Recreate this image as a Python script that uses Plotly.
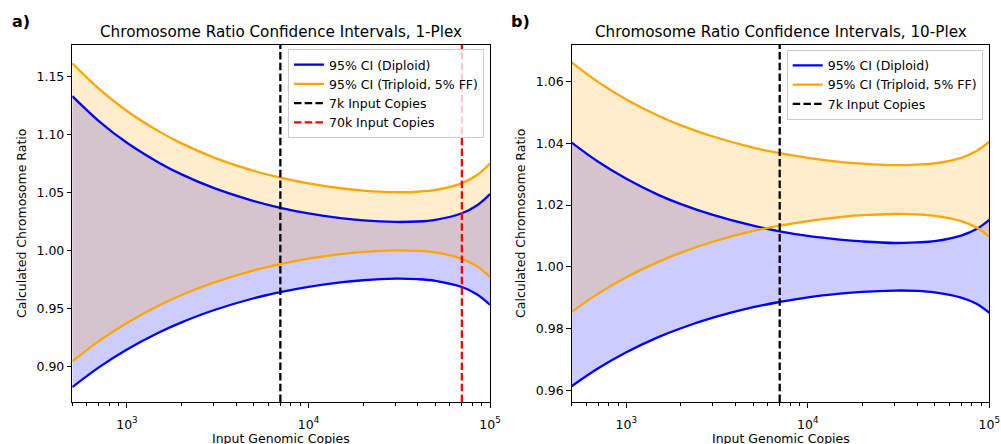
import plotly.graph_objects as go

# ---------------- data ----------------
COPIES = [500, 700, 1000, 1500, 2000, 3000, 5000, 7000, 10000, 15000,
          20000, 30000, 40000, 50000, 70000, 85000, 100000]

# Panel a) 1-Plex
DIP1_UP = [1.1329, 1.1115, 1.0928, 1.0757, 1.0656, 1.0540, 1.0427, 1.0369, 1.0321, 1.0280,
           1.0260, 1.0247, 1.0251, 1.0266, 1.0322, 1.0391, 1.0487]
DIP1_LO = [0.8827, 0.8997, 0.9151, 0.9297, 0.9384, 0.9488, 0.9591, 0.9644, 0.9689, 0.9728,
           0.9746, 0.9759, 0.9755, 0.9741, 0.9688, 0.9624, 0.9535]
TRI1_UP = [1.1612, 1.1393, 1.1201, 1.1026, 1.0923, 1.0803, 1.0687, 1.0628, 1.0579, 1.0537,
           1.0517, 1.0503, 1.0507, 1.0522, 1.0581, 1.0651, 1.0750]
TRI1_LO = [0.9048, 0.9222, 0.9379, 0.9529, 0.9619, 0.9725, 0.9831, 0.9885, 0.9931, 0.9971,
           0.9990, 1.0003, 0.9999, 0.9985, 0.9930, 0.9865, 0.9774]

# Panel b) 10-Plex
DIP10_UP = [1.0402, 1.0340, 1.0285, 1.0233, 1.0203, 1.0168, 1.0133, 1.0115, 1.0100, 1.0088,
            1.0082, 1.0077, 1.0079, 1.0083, 1.0101, 1.0122, 1.0152]
DIP10_LO = [0.9613, 0.9671, 0.9723, 0.9772, 0.9801, 0.9835, 0.9869, 0.9886, 0.9901, 0.9913,
            0.9919, 0.9923, 0.9922, 0.9917, 0.9900, 0.9880, 0.9851]
TRI10_UP = [1.0662, 1.0598, 1.0542, 1.0489, 1.0458, 1.0422, 1.0386, 1.0368, 1.0353, 1.0340,
            1.0334, 1.0329, 1.0331, 1.0335, 1.0353, 1.0375, 1.0405]
TRI10_LO = [0.9854, 0.9913, 0.9966, 1.0016, 1.0046, 1.0081, 1.0116, 1.0133, 1.0148, 1.0161,
            1.0167, 1.0171, 1.0170, 1.0165, 1.0148, 1.0127, 1.0097]

VLINE_A = [7000, 70000]
VLINE_A_NAMES = ["7k Input Copies", "70k Input Copies"]
VLINE_B = [7000]
VLINE_B_NAMES = ["7k Input Copies"]

Y_RANGE_A = [0.8699, 1.1773]
Y_RANGE_B = [0.9562, 1.0720]
Y_TICKS_A = [0.90, 0.95, 1.00, 1.05, 1.10, 1.15]
Y_TICKS_B = [0.96, 0.98, 1.00, 1.02, 1.04, 1.06]
X_TICKS = [1000, 10000, 100000]
X_TICK_TEXT = ["10<sup>3</sup>", "10<sup>4</sup>", "10<sup>5</sup>"]
X_MINOR = [d * 10 ** e for e in (2, 3, 4) for d in range(2, 10) if 500 <= d * 10 ** e <= 100000]

TITLES = ["Chromosome Ratio Confidence Intervals, 1-Plex",
          "Chromosome Ratio Confidence Intervals, 10-Plex"]
PANEL_LABELS = ["a)", "b)"]
LABEL_DIP = "95% CI (Diploid)"
LABEL_TRI = "95% CI (Triploid, 5% FF)"
VLINE_COLORS = ["#000000", "#ff0000"]

# ---------------- styling ----------------
W, H = 1001, 444
FONT = "DejaVu Sans"
BLUE = "#0000ff"
ORANGE = "#ffa500"
BLUE_FILL = "rgba(0,0,255,0.2)"
ORANGE_FILL = "rgba(255,165,0,0.2)"
LW = 2.3
DASH = "7.5px,3.2px"
TICK_FS = 12.5
TITLE_FS = 15.2

XDOM = [[72.3 / W, 490.0 / W], [571.7 / W, 989.3 / W]]
YDOM = [1 - 402.0 / H, 1 - 44.5 / H]

fig = go.Figure()

panels = [
    ("x", "y", "legend", DIP1_UP, DIP1_LO, TRI1_UP, TRI1_LO, VLINE_A, VLINE_A_NAMES, Y_RANGE_A),
    ("x2", "y2", "legend2", DIP10_UP, DIP10_LO, TRI10_UP, TRI10_LO, VLINE_B, VLINE_B_NAMES, Y_RANGE_B),
]

for (xa, ya, lg, dup, dlo, tup, tlo, vls, vnames, yr) in panels:
    # fills
    for lo, up, fc in ((dlo, dup, BLUE_FILL), (tlo, tup, ORANGE_FILL)):
        fig.add_trace(go.Scatter(x=COPIES, y=lo, mode="lines", line=dict(width=0, shape="spline"),
                                 showlegend=False, hoverinfo="skip", xaxis=xa, yaxis=ya))
        fig.add_trace(go.Scatter(x=COPIES, y=up, mode="lines", line=dict(width=0, shape="spline"),
                                 fill="tonexty", fillcolor=fc, showlegend=False, hoverinfo="skip",
                                 xaxis=xa, yaxis=ya))
    # lines
    for name, up, lo, col in ((LABEL_DIP, dup, dlo, BLUE), (LABEL_TRI, tup, tlo, ORANGE)):
        fig.add_trace(go.Scatter(x=COPIES, y=up, mode="lines", name=name, legendgroup=name + xa,
                                 line=dict(color=col, width=LW, shape="spline"),
                                 xaxis=xa, yaxis=ya, legend=lg))
        fig.add_trace(go.Scatter(x=COPIES, y=lo, mode="lines", name=name, legendgroup=name + xa,
                                 showlegend=False, line=dict(color=col, width=LW, shape="spline"),
                                 xaxis=xa, yaxis=ya))
    for i, (xv, nm) in enumerate(zip(vls, vnames)):
        fig.add_trace(go.Scatter(x=[xv, xv], y=yr, mode="lines", name=nm,
                                 line=dict(color=VLINE_COLORS[i], width=LW, dash=DASH),
                                 xaxis=xa, yaxis=ya, legend=lg))

axis_common = dict(showline=True, mirror=True, linecolor="black", linewidth=1,
                   showgrid=False, zeroline=False, ticks="outside", ticklen=4.5,
                   tickwidth=1, tickcolor="black", automargin=False,
                   tickfont=dict(family=FONT, size=TICK_FS, color="black"))

for i, (xa, ya, yr, yt) in enumerate(((
        "xaxis", "yaxis", Y_RANGE_A, Y_TICKS_A), ("xaxis2", "yaxis2", Y_RANGE_B, Y_TICKS_B))):
    anchor_y = "y" if i == 0 else "y2"
    anchor_x = "x" if i == 0 else "x2"
    fig.layout[xa] = dict(axis_common, type="log", domain=XDOM[i], anchor=anchor_y,
                          range=[2.69897, 5.0], tickvals=X_TICKS, ticktext=X_TICK_TEXT,
                          ticklabelstandoff=6,
                          minor=dict(tickvals=X_MINOR, ticks="outside", ticklen=2.5,
                                     tickcolor="black", tickwidth=0.8, showgrid=False))
    fig.layout[ya] = dict(axis_common, domain=YDOM, anchor=anchor_x, range=yr,
                          tickvals=yt, ticktext=["%.2f" % v for v in yt])

annotations = []
for i in range(2):
    cx = (XDOM[i][0] + XDOM[i][1]) / 2
    annotations.append(dict(text=TITLES[i], x=cx, y=1 - 32.3 / H, xref="paper", yref="paper",
                            xanchor="center", yanchor="middle", showarrow=False,
                            font=dict(family=FONT, size=TITLE_FS, color="black")))
    annotations.append(dict(text="Input Genomic Copies", x=cx, y=1 - 438.3 / H, xref="paper",
                            yref="paper", xanchor="center", yanchor="middle", showarrow=False,
                            font=dict(family=FONT, size=TICK_FS, color="black")))
    annotations.append(dict(text="Calculated Chromosome Ratio", x=(21.7 if i == 0 else 520.7) / W,
                            y=(YDOM[0] + YDOM[1]) / 2, xref="paper", yref="paper",
                            xanchor="center", yanchor="middle", textangle=-90, showarrow=False,
                            font=dict(family=FONT, size=TICK_FS, color="black")))
    annotations.append(dict(text="<b>%s</b>" % PANEL_LABELS[i], x=(10 if i == 0 else 509) / W,
                            y=1 - 21.7 / H, xref="paper", yref="paper", xanchor="left",
                            yanchor="middle", showarrow=False,
                            font=dict(family=FONT, size=16, color="black")))

legend_style = dict(bgcolor="rgba(255,255,255,0.8)", bordercolor="#cccccc", borderwidth=1,
                    font=dict(family=FONT, size=TICK_FS, color="black"),
                    xanchor="right", yanchor="top", xref="paper", yref="paper",
                    tracegroupgap=0, itemwidth=30)

fig.update_layout(
    width=W, height=H, autosize=False, margin=dict(l=0, r=0, t=0, b=0, autoexpand=False),
    paper_bgcolor="white", plot_bgcolor="white",
    font=dict(family=FONT, size=TICK_FS, color="black"),
    annotations=annotations,
    legend=dict(legend_style, x=484.0 / W, y=1 - 49.0 / H),
    legend2=dict(legend_style, x=982.7 / W, y=1 - 49.7 / H),
)

fig.write_html("out.html", config={"responsive": False})
